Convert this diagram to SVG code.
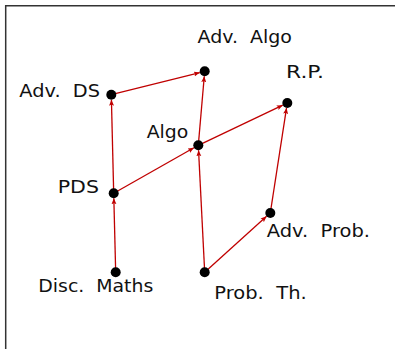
<svg xmlns="http://www.w3.org/2000/svg" width="395" height="349" viewBox="0 0 395 349">
<style>
.lbl{font-family:"DejaVu Sans","Liberation Sans",sans-serif;font-size:18px;fill:#111;white-space:pre}
.e{stroke:#c00000;stroke-width:1.3;fill:none;marker-end:url(#ah)}
.n{fill:#000}
</style>
<defs>
<marker id="ah" markerUnits="userSpaceOnUse" markerWidth="8" markerHeight="6" refX="6" refY="2.5" orient="auto">
<path d="M0,0 L6,2.5 L0,5 L1.2,2.5 z" fill="#c00000"/>
</marker>
</defs>
<rect x="0" y="0" width="395" height="349" fill="#fff"/>
<path d="M5.7,349 V5.7 H395" stroke="#333" stroke-width="1.5" fill="none"/>
<g id="edges">
<line class="e" x1="115.7" y1="272.3" x2="113.83" y2="198.3"/>
<line class="e" x1="113.7" y1="193.3" x2="111.42" y2="99.7"/>
<line class="e" x1="113.7" y1="193.3" x2="193.95" y2="147.77"/>
<line class="e" x1="111.3" y1="94.7" x2="199.85" y2="72.52"/>
<line class="e" x1="198.3" y1="145.3" x2="204.27" y2="76.28"/>
<line class="e" x1="198.3" y1="145.3" x2="282.78" y2="105.15"/>
<line class="e" x1="204.7" y1="272.3" x2="198.55" y2="150.29"/>
<line class="e" x1="204.7" y1="272.3" x2="266.59" y2="216.35"/>
<line class="e" x1="270.3" y1="213" x2="286.54" y2="107.94"/>
</g>
<g id="disc-maths"><circle class="n" cx="115.7" cy="272.3" r="5"/><text class="lbl" x="38.3" y="291.7" textLength="115" lengthAdjust="spacingAndGlyphs" xml:space="preserve">Disc.  Maths</text></g>
<g id="pds"><circle class="n" cx="113.7" cy="193.3" r="5"/><text class="lbl" x="57.7" y="193.3" textLength="41.3" lengthAdjust="spacingAndGlyphs">PDS</text></g>
<g id="adv-ds"><circle class="n" cx="111.3" cy="94.7" r="5"/><text class="lbl" x="19.3" y="96.7" textLength="80.7" lengthAdjust="spacingAndGlyphs" xml:space="preserve">Adv.  DS</text></g>
<g id="algo"><circle class="n" cx="198.3" cy="145.3" r="5"/><text class="lbl" x="146.7" y="138.3" textLength="41.6" lengthAdjust="spacingAndGlyphs">Algo</text></g>
<g id="adv-algo"><circle class="n" cx="204.7" cy="71.3" r="5"/><text class="lbl" x="197.5" y="43.3" textLength="94.5" lengthAdjust="spacingAndGlyphs" xml:space="preserve">Adv.  Algo</text></g>
<g id="rp"><circle class="n" cx="287.3" cy="103" r="5"/><text class="lbl" x="286" y="77.7" textLength="38" lengthAdjust="spacingAndGlyphs">R.P.</text></g>
<g id="prob-th"><circle class="n" cx="204.7" cy="272.3" r="5"/><text class="lbl" x="214.3" y="299.3" textLength="92.4" lengthAdjust="spacingAndGlyphs" xml:space="preserve">Prob.  Th.</text></g>
<g id="adv-prob"><circle class="n" cx="270.3" cy="213" r="5"/><text class="lbl" x="266.7" y="236.7" textLength="103.3" lengthAdjust="spacingAndGlyphs" xml:space="preserve">Adv.  Prob.</text></g>
</svg>
